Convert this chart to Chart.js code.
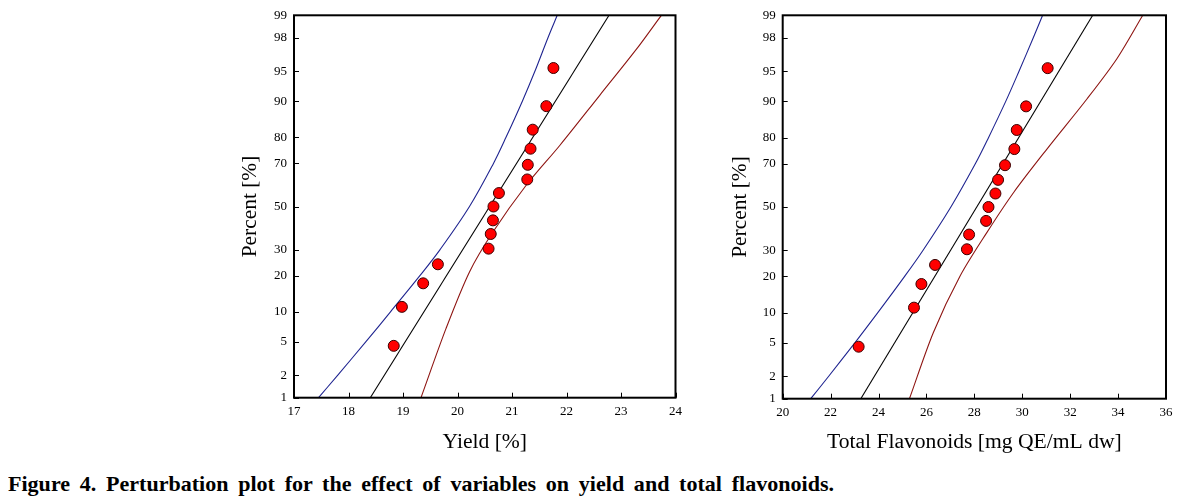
<!DOCTYPE html>
<html>
<head>
<meta charset="utf-8">
<script src="https://cdn.jsdelivr.net/npm/chart.js@4.4.1/dist/chart.umd.min.js"></script>
<style>
  html, body { margin: 0; padding: 0; background: #fff; }
  body { width: 1191px; height: 500px; position: relative; overflow: hidden; font-family: "Liberation Serif", serif; }
  .wrap { position: absolute; top: 0; height: 465px; }
  #wrapLeft { left: 0; width: 700px; }
  #wrapRight { left: 700px; width: 491px; }
  #caption { position: absolute; left: 8px; top: 472px; font-family: "Liberation Serif", serif; font-weight: bold; font-size: 21px; line-height: 24px; word-spacing: 4px; white-space: nowrap; transform-origin: 0 0; color: #000; }
</style>
</head>
<body>
<div class="wrap" id="wrapLeft"><canvas id="yieldChart"></canvas></div>
<div class="wrap" id="wrapRight"><canvas id="flavChart"></canvas></div>
<div id="caption">Figure 4. Perturbation plot for the effect of variables on yield and total flavonoids.</div>
<script>
// probability axis ticks (percent)
const pctTicks = [1, 2, 5, 10, 20, 30, 50, 70, 80, 90, 95, 98, 99];

// normal probability of each run (percent)
const runPercent = [4.5, 11.1, 17.5, 24.1, 30.4, 36.9, 43.3, 50, 56.5, 62.9, 69.4, 75.9, 82.5, 88.9, 95.4];

// yield [%]
const yieldValues = [18.83, 18.98, 19.37, 19.64, 20.57, 20.61, 20.65, 20.66, 20.76, 21.28, 21.29, 21.34, 21.38, 21.63, 21.76];
const yieldFitX = [18.40, 22.78];
const yieldFitPct = [1, 99];
const bandPct = [1, 2, 5, 10, 20, 30, 50, 70, 80, 90, 95, 98, 99];
const yieldLowerX = [17.45, 17.80, 18.32, 18.77, 19.31, 19.68, 20.22, 20.66, 20.89, 21.19, 21.42, 21.66, 21.83];
const yieldUpperX = [19.33, 19.79, 20.22, 20.65, 21.26, 21.88, 22.61, 23.28, 23.74];
const yieldUpperPct = [1, 6.9, 21.3, 37.8, 60.2, 77.2, 91.2, 97.2, 99];

// total flavonoids [mg QE/mL dw]
const flavValues = [23.17, 25.48, 25.79, 26.36, 27.69, 27.78, 28.49, 28.59, 28.88, 28.99, 29.28, 29.67, 29.77, 30.16, 31.06];
const flavFitX = [23.26, 32.94];
const flavFitPct = [1, 99];
const flavLowerX = [21.17, 21.92, 23.02, 23.97, 25.09, 25.86, 27.02, 28.04, 28.59, 29.31, 29.86, 30.46, 30.85];
const flavUpperX = [25.29, 26.29, 27.41, 28.52, 29.64, 31.03, 32.70, 33.95, 35.03];
const flavUpperPct = [1, 6.4, 20.2, 37.8, 57.0, 75.9, 90.5, 96.4, 99];

// inverse normal cdf (Acklam)
function probit(p) {
  const a = [-39.69683028665376, 220.9460984245205, -275.9285104469687, 138.3577518672690, -30.66479806614716, 2.506628277459239];
  const b = [-54.47609879822406, 161.5858368580409, -155.6989798598866, 66.80131188771972, -13.28068155288572];
  const c = [-0.007784894002430293, -0.3223964580411365, -2.400758277161838, -2.549732539343734, 4.374664141464968, 2.938163982698783];
  const d = [0.007784695709041462, 0.3224671290700398, 2.445134137142996, 3.754408661907416];
  const plow = 0.02425, phigh = 1 - plow;
  let q, r;
  if (p < plow) {
    q = Math.sqrt(-2 * Math.log(p));
    return (((((c[0]*q+c[1])*q+c[2])*q+c[3])*q+c[4])*q+c[5]) / ((((d[0]*q+d[1])*q+d[2])*q+d[3])*q+1);
  }
  if (p > phigh) {
    q = Math.sqrt(-2 * Math.log(1 - p));
    return -(((((c[0]*q+c[1])*q+c[2])*q+c[3])*q+c[4])*q+c[5]) / ((((d[0]*q+d[1])*q+d[2])*q+d[3])*q+1);
  }
  q = p - 0.5; r = q * q;
  return (((((a[0]*r+a[1])*r+a[2])*r+a[3])*r+a[4])*r+a[5])*q / (((((b[0]*r+b[1])*r+b[2])*r+b[3])*r+b[4])*r+1);
}

const toPts = (xs, pcts) => xs.map((x, i) => ({ x: x, y: probit(pcts[i] / 100) }));

// inward tick marks + frame
const frameTicks = {
  id: 'frameTicks',
  afterDraw(chart) {
    const { ctx, chartArea: a, scales: { x, y } } = chart;
    ctx.save();
    ctx.strokeStyle = '#000';
    ctx.lineWidth = 1;
    ctx.beginPath();
    x.ticks.forEach((t, i) => {
      const px = Math.round(x.getPixelForTick(i)) + 0.5;
      ctx.moveTo(px, a.bottom); ctx.lineTo(px, a.bottom - 5);
    });
    y.ticks.forEach((t, i) => {
      const py = Math.round(y.getPixelForTick(i)) + 0.5;
      ctx.moveTo(a.left, py); ctx.lineTo(a.left + 5, py);
    });
    ctx.stroke();
    ctx.lineWidth = 2;
    ctx.strokeRect(a.left, a.top, a.right - a.left, a.bottom - a.top);
    ctx.restore();
  }
};

const serif = '"Liberation Serif", "Times New Roman", serif';

function makeChart(id, cfg) {
  const data = {
    datasets: [
      {
        label: 'runs',
        data: toPts(cfg.values, runPercent),
        pointRadius: 5.5,
        pointBackgroundColor: '#f00',
        pointBorderColor: '#3a0000',
        pointBorderWidth: 1,
        showLine: false,
        order: 0
      },
      {
        label: 'fit',
        data: toPts(cfg.fitX, cfg.fitPct),
        showLine: true, pointRadius: 0, borderColor: '#000', borderWidth: 1.1, order: 1
      },
      {
        label: 'lower',
        data: toPts(cfg.lowX, bandPct),
        showLine: true, pointRadius: 0, borderColor: '#1f2490', borderWidth: 1.1,
        tension: 0.35, order: 2
      },
      {
        label: 'upper',
        data: toPts(cfg.upX, cfg.upPct),
        showLine: true, pointRadius: 0, borderColor: '#8e1512', borderWidth: 1.1,
        tension: 0.3, order: 3
      }
    ]
  };

  return new Chart(document.getElementById(id), {
    type: 'scatter',
    data: data,
    plugins: [frameTicks],
    options: {
      responsive: true,
      maintainAspectRatio: false,
      animation: false,
      layout: { padding: cfg.padding },
      plugins: { legend: { display: false }, tooltip: { enabled: false } },
      scales: {
        x: {
          type: 'linear',
          min: cfg.xMin, max: cfg.xMax,
          afterFit: s => { s.height = cfg.xHeight; },
          grid: { display: false, drawTicks: false },
          border: { display: false },
          ticks: { stepSize: cfg.xStep, padding: 6, color: '#000', font: { family: serif, size: 13 } },
          title: { display: true, text: cfg.xTitle, color: '#000', font: { family: serif, size: 21.6 }, padding: { top: 0, bottom: 10 } }
        },
        y: {
          type: 'linear',
          min: probit(0.01), max: probit(0.99),
          afterFit: s => { s.width = cfg.yWidth; },
          afterBuildTicks: s => { s.ticks = pctTicks.map(p => ({ value: probit(p / 100) })); },
          grid: { display: false, drawTicks: false },
          border: { display: false },
          ticks: {
            autoSkip: false, padding: 7, color: '#000', font: { family: serif, size: 13 },
            callback: (v, i) => String(pctTicks[i])
          },
          title: { display: true, text: 'Percent [%]', color: '#000', font: { family: serif, size: 21.4 }, padding: { top: cfg.yTitlePad, bottom: 0 } }
        }
      }
    }
  });
}

makeChart('yieldChart', {
  values: yieldValues,
  fitX: yieldFitX, fitPct: yieldFitPct,
  lowX: yieldLowerX,
  upX: yieldUpperX, upPct: yieldUpperPct,
  xMin: 17, xMax: 24, xStep: 1,
  xTitle: 'Yield [%]',
  padding: { left: 225, right: 24.5, top: 15.3, bottom: 0 },
  xHeight: 67.3, yWidth: 69, yTitlePad: 12.2
});

makeChart('flavChart', {
  values: flavValues,
  fitX: flavFitX, fitPct: flavFitPct,
  lowX: flavLowerX,
  upX: flavUpperX, upPct: flavUpperPct,
  xMin: 20, xMax: 36, xStep: 2,
  xTitle: 'Total Flavonoids [mg QE/mL dw]',
  padding: { left: 0, right: 25, top: 15.3, bottom: 0 },
  xHeight: 66.3, yWidth: 82.7, yTitlePad: 27.2
});

// caption is a condensed bold serif in the figure
const cap = document.getElementById('caption');
const capW = cap.getBoundingClientRect().width;
cap.style.transform = 'scaleX(' + (826 / capW) + ')';
</script>
</body>
</html>
